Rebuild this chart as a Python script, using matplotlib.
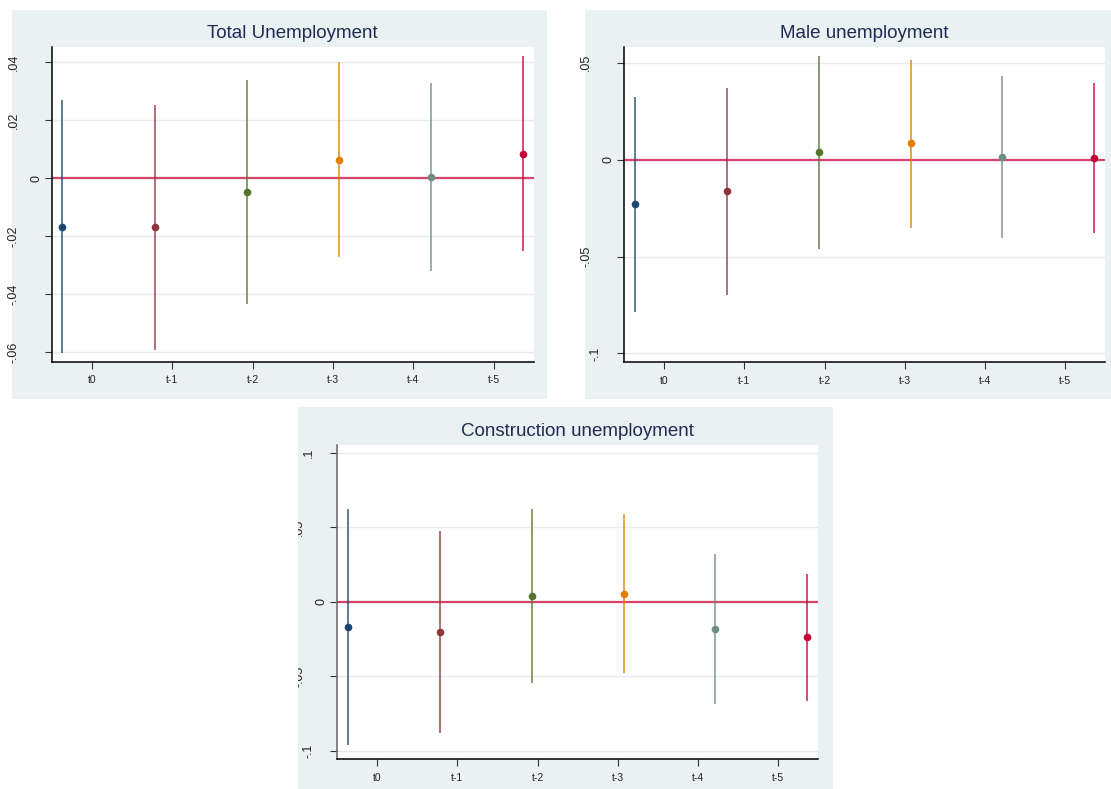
import numpy as np
import matplotlib
matplotlib.use("Agg")
import matplotlib.pyplot as plt
from matplotlib.patches import Rectangle
from matplotlib import transforms

plt.rcParams["font.family"] = ["Liberation Sans", "DejaVu Sans"]

# ---- data ----
lags = ["t0", "t-1", "t-2", "t-3", "t-4", "t-5"]

total_coef = [-0.0169, -0.0169, -0.0046, 0.0064, 0.0005, 0.0085]
total_lo = [-0.0603, -0.0592, -0.0432, -0.0271, -0.0320, -0.0251]
total_hi = [0.0269, 0.0254, 0.0338, 0.0399, 0.0328, 0.0421]

male_coef = [-0.0228, -0.0162, 0.0038, 0.0085, 0.0014, 0.0007]
male_lo = [-0.0784, -0.0698, -0.0459, -0.0351, -0.0404, -0.0378]
male_hi = [0.0323, 0.0371, 0.0537, 0.0516, 0.0432, 0.0395]

constr_coef = [-0.0166, -0.0200, 0.0038, 0.0054, -0.0184, -0.0238]
constr_lo = [-0.0962, -0.0881, -0.0547, -0.0480, -0.0688, -0.0666]
constr_hi = [0.0623, 0.0477, 0.0623, 0.0590, 0.0323, 0.0190]

total_ticks = [-0.06, -0.04, -0.02, 0, 0.02, 0.04]
total_ticklabels = ["-.06", "-.04", "-.02", "0", ".02", ".04"]
male_ticks = [-0.1, -0.05, 0, 0.05]
male_ticklabels = ["-.1", "-.05", "0", ".05"]
constr_ticks = [-0.1, -0.05, 0, 0.05, 0.1]
constr_ticklabels = ["-.1", "-.05", "0", ".05", ".1"]

# ---- style ----
W, H = 1111, 789
BG = "#e9f1f3"
GRID = "#e4ecef"
TITLE_C = "#1f2b52"
ZERO_C = "#d8436b"
COLORS = ["#1a476f", "#90353b", "#55752f", "#e37e00", "#6e8e84", "#c10534"]

fig = plt.figure(figsize=(W / 100, H / 100), dpi=100)
fig.patch.set_facecolor("white")


def frac_rect(x0, y0, x1, y1):
    return [x0 / W, 1 - y1 / H, (x1 - x0) / W, (y1 - y0) / H]


def label_offset(lab):
    # stata puts its rotated labels at odd distances from the axis
    return {"0": 15.5, ".1": 28, "-.1": 29}.get(lab, 38)


def panel(bg, box, title, coef, lo, hi, ylim, ticks, ticklabels,
          clip_x=None, left_col="black"):
    x0, y0, x1, y1 = bg
    fig.add_artist(Rectangle((x0 / W, 1 - y1 / H), (x1 - x0) / W, (y1 - y0) / H,
                             transform=fig.transFigure, facecolor=BG,
                             edgecolor="none", zorder=0))
    ax = fig.add_axes(frac_rect(*box))
    ax.set_facecolor("white")
    for s in ("top", "right"):
        ax.spines[s].set_visible(False)
    ax.spines["left"].set_color(left_col)
    ax.spines["bottom"].set_color("black")
    ax.spines["left"].set_linewidth(1.1)
    ax.spines["bottom"].set_linewidth(1.1)

    n = len(coef)
    xs = np.arange(n) + (np.arange(n) - 2.5) * 0.146
    ax.axhline(0, color=ZERO_C, lw=1.6, zorder=2)
    for i in range(n):
        ax.plot([xs[i], xs[i]], [lo[i], hi[i]], color=COLORS[i], lw=1.1,
                alpha=0.9, zorder=3, solid_capstyle="butt")
        ax.plot(xs[i], coef[i], "o", color=COLORS[i], ms=5.5, mew=0, zorder=4)

    ax.set_xlim(-0.5, 5.5)
    ax.set_ylim(*ylim)
    ax.set_xticks(range(n))
    ax.set_xticklabels(lags, fontsize=7.5, color="#222222")
    ax.set_yticks(ticks)
    ax.set_yticklabels([])
    ax.tick_params(axis="both", length=5, width=0.8, color="#333333")
    ax.tick_params(axis="x", pad=5)
    ax.yaxis.grid(True, color=GRID, lw=1.0)
    ax.set_axisbelow(True)

    base = transforms.blended_transform_factory(ax.transAxes, ax.transData)
    for t, lab in zip(ticks, ticklabels):
        tr = transforms.offset_copy(base, fig=fig, x=-label_offset(lab), y=0,
                                    units="dots")
        txt = fig.text(0, t, lab, transform=tr, rotation=90, ha="center",
                       va="center", fontsize=9, color="#222222")
        if clip_x is not None:
            cb = transforms.TransformedBbox(
                transforms.Bbox.from_extents(clip_x / W, 0, 1, 1), fig.transFigure)
            txt.set_clip_box(cb)
            txt.set_clip_on(True)

    bx0, by0, bx1, by1 = box
    fig.text((bx0 + bx1) / 2 / W, 1 - (by0 - 13.5) / H, title, ha="center",
             va="center", fontsize=13.5, color=TITLE_C)
    return ax


panel((12, 10, 547, 399), (51.5, 47.3, 534, 361.5), "Total Unemployment",
      total_coef, total_lo, total_hi, (-0.0631, 0.0451),
      total_ticks, total_ticklabels, clip_x=6.7)
panel((585, 10, 1111, 399), (624.3, 47.3, 1105, 361.7), "Male unemployment",
      male_coef, male_lo, male_hi, (-0.1043, 0.058),
      male_ticks, male_ticklabels)
panel((297.7, 407.3, 833, 789), (337.3, 444.5, 818, 759), "Construction unemployment",
      constr_coef, constr_lo, constr_hi, (-0.1057, 0.1058),
      constr_ticks, constr_ticklabels, clip_x=297.7, left_col="#666666")

fig.savefig("out.png", dpi=100)
